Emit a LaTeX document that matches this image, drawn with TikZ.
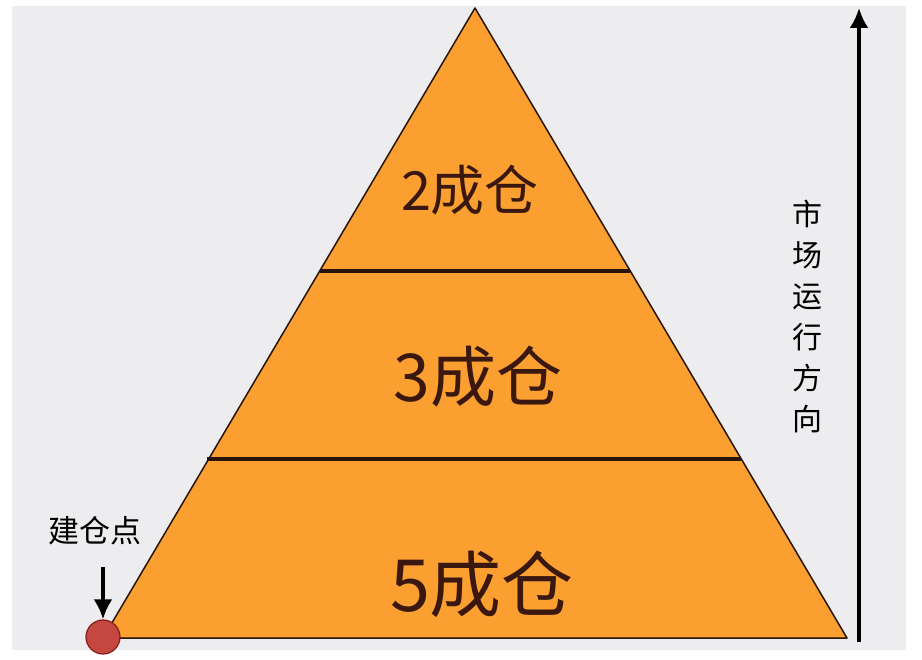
\documentclass[tikz,border=0pt]{standalone}
\usepackage{fontspec}
\newfontfamily\cjk{Noto Sans CJK SC}
\usetikzlibrary{arrows.meta,positioning}
\definecolor{colbg}{RGB}{237,237,240}
\definecolor{colpyr}{RGB}{251,160,48}
\definecolor{coltxt}{RGB}{58,24,16}
\definecolor{colline}{RGB}{40,20,10}
\definecolor{coldot}{RGB}{196,72,64}
\definecolor{coldotb}{RGB}{130,30,25}
\tikzstyle{level}=[text=coltxt, inner sep=0pt]
\tikzstyle{divider}=[draw=colline, line width=3.5pt]
\tikzstyle{note}=[text=black, inner sep=0pt, align=center]
\tikzstyle{dot}=[circle, draw=coldotb, fill=coldot, line width=1.2pt, minimum size=34pt, inner sep=0pt]

\begin{document}
\begin{tikzpicture}[x=1pt,y=-1pt,>={Latex[length=20pt,width=19pt]},font=\cjk]
		    \fill[white] (0,0) rectangle (922,660);
		    \fill[colbg] (12,6) rectangle (906,650);
		    \useasboundingbox (0,0) rectangle (922,660);
		    % pyramid
		    \coordinate (top) at (475,8);
		    \coordinate (bl) at (103,638);
		    \coordinate (br) at (847,638);
		    \filldraw[fill=colpyr, draw=colline, line width=1.5pt, line join=round] (top) -- (br) -- (bl) -- cycle;
		    \draw[divider] (320,271) -- (630,271);
		    \draw[divider] (207,459) -- (741,459);
		    \node [level, font=\cjk\fontsize{54}{54}\selectfont] (two) at (470,190) {2成仓};
		    \node [level, font=\cjk\fontsize{66}{66}\selectfont] (three) at (478,377) {3成仓};
		    \node [level, font=\cjk\fontsize{72}{72}\selectfont] (five) at (482,584) {5成仓};
		    % entry point
		    \node [dot] (entry) at (103,637) {};
		    \node [note, font=\cjk\fontsize{31}{31}\selectfont] (lbl) at (95,531) {建仓点};
		    \coordinate (start) at (103,567);
		    \draw[->, line width=4pt] (start) -- (entry);
		    % market direction
		    \coordinate (dirlow) at (859,642);
		    \coordinate (dirhigh) at (859,8);
		    \draw[->, line width=3.5pt] (dirlow) -- (dirhigh);
		    \node [note, font=\cjk\fontsize{30}{41}\selectfont] (dir) at (807,316) {市\\场\\运\\行\\方\\向};
		\end{tikzpicture}
\end{document}
